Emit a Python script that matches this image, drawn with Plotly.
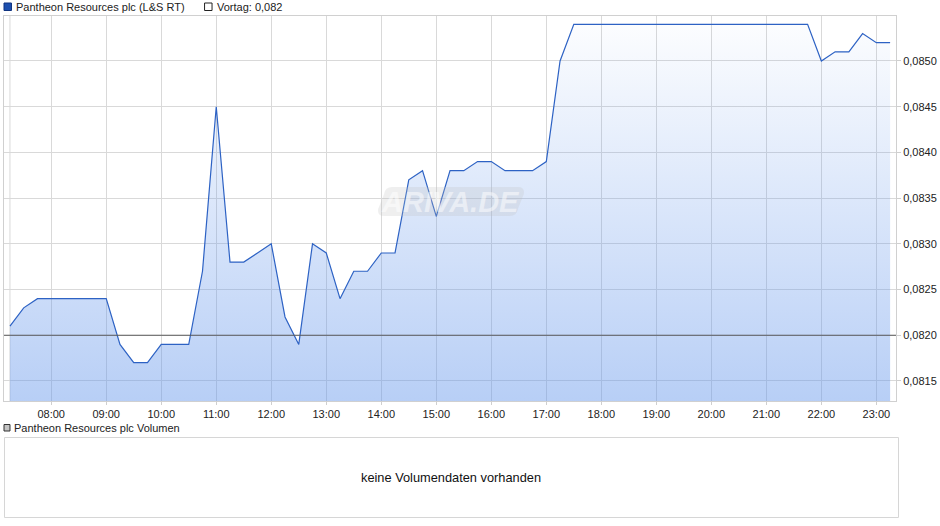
import plotly.graph_objects as go

# ---- data ----
times = ["07:15", "07:30", "07:45", "08:00", "08:15", "08:30", "08:45", "09:00",
         "09:15", "09:30", "09:45", "10:00", "10:15", "10:30", "10:45", "11:00",
         "11:15", "11:30", "11:45", "12:00", "12:15", "12:30", "12:45", "13:00",
         "13:15", "13:30", "13:45", "14:00", "14:15", "14:30", "14:45", "15:00",
         "15:15", "15:30", "15:45", "16:00", "16:15", "16:30", "16:45", "17:00",
         "17:15", "17:30", "17:45", "18:00", "18:15", "18:30", "18:45", "19:00",
         "19:15", "19:30", "19:45", "20:00", "20:15", "20:30", "20:45", "21:00",
         "21:15", "21:30", "21:45", "22:00", "22:15", "22:30", "22:45", "23:00",
         "23:15"]
prices = [0.0821, 0.0823, 0.0824, 0.0824, 0.0824, 0.0824, 0.0824, 0.0824,
          0.0819, 0.0817, 0.0817, 0.0819, 0.0819, 0.0819, 0.0827, 0.0845,
          0.0828, 0.0828, 0.0829, 0.0830, 0.0822, 0.0819, 0.0830, 0.0829,
          0.0824, 0.0827, 0.0827, 0.0829, 0.0829, 0.0837, 0.0838, 0.0833,
          0.0838, 0.0838, 0.0839, 0.0839, 0.0838, 0.0838, 0.0838, 0.0839,
          0.0850, 0.0854, 0.0854, 0.0854, 0.0854, 0.0854, 0.0854, 0.0854,
          0.0854, 0.0854, 0.0854, 0.0854, 0.0854, 0.0854, 0.0854, 0.0854,
          0.0854, 0.0854, 0.0854, 0.0850, 0.0851, 0.0851, 0.0853, 0.0852,
          0.0852]
prev_close = 0.082
series_name = "Pantheon Resources plc (L&S RT)"
prev_label = "Vortag: 0,082"
volume_name = "Pantheon Resources plc Volumen"
no_volume_text = "keine Volumendaten vorhanden"
watermark = "ARIVA.DE"
y_tickvals = [0.0815, 0.0820, 0.0825, 0.0830, 0.0835, 0.0840, 0.0845, 0.0850]
y_ticktext = ["0,0815", "0,0820", "0,0825", "0,0830", "0,0835", "0,0840",
              "0,0845", "0,0850"]

DAY = "2024-01-01 "
x = [DAY + t for t in times]

W, H = 940, 526
L, R, T, B = 3, 897, 16, 401  # plot area in pixels
Y_MIN, Y_MAX = 0.081281, 0.085492
FONT = "Liberation Sans, Arial, sans-serif"


def px(v):
    return (v - L) / (R - L)


def py(v):
    return (B - v) / (B - T)


fig = go.Figure()
fig.add_trace(go.Scatter(
    x=x, y=prices, mode="lines",
    line=dict(color="#2d62c4", width=1.2),
    fill="tozeroy",
    fillgradient=dict(
        type="vertical",
        start=Y_MIN, stop=0.0854,
        colorscale=[[0, "rgba(100,150,235,0.46)"], [1, "rgba(100,150,235,0.02)"]],
    ),
    hoverinfo="skip", showlegend=False,
))

shapes = []
# previous close line
shapes.append(dict(type="line", xref="paper", yref="y", x0=0, x1=1,
                   y0=prev_close, y1=prev_close,
                   line=dict(color="#5a5a5a", width=1), layer="above"))
# vertical grid at data start
shapes.append(dict(type="line", xref="x", yref="paper", x0=x[0], x1=x[0],
                   y0=0, y1=1, line=dict(color="#d9d9d9", width=1), layer="below"))

# watermark: rounded parallelogram
r = 7
tl, tr, br, bl = (385, 187), (525, 187), (517, 216), (377, 216)
path = (f"M {px(tl[0]+r)},{py(tl[1])} L {px(tr[0]-r)},{py(tr[1])} "
        f"Q {px(tr[0])},{py(tr[1])} {px(tr[0]-1)},{py(tr[1]+r)} "
        f"L {px(br[0]+1)},{py(br[1]-r)} "
        f"Q {px(br[0])},{py(br[1])} {px(br[0]-r)},{py(br[1])} "
        f"L {px(bl[0]+r)},{py(bl[1])} "
        f"Q {px(bl[0])},{py(bl[1])} {px(bl[0]+1)},{py(bl[1]-r)} "
        f"L {px(tl[0]-1)},{py(tl[1]+r)} "
        f"Q {px(tl[0])},{py(tl[1])} {px(tl[0]+r)},{py(tl[1])} Z")
shapes.append(dict(type="path", xref="paper", yref="paper", path=path,
                   fillcolor="rgba(190,190,190,0.25)", line=dict(width=0),
                   layer="above"))

# legend squares
shapes.append(dict(type="rect", xref="paper", yref="paper",
                   x0=px(3), x1=px(10.5), y0=py(3), y1=py(10.5),
                   fillcolor="#1d4fae", line=dict(color="#0f3380", width=1)))
shapes.append(dict(type="rect", xref="paper", yref="paper",
                   x0=px(204), x1=px(211.5), y0=py(3), y1=py(10.5),
                   fillcolor="white", line=dict(color="#222", width=1)))
shapes.append(dict(type="rect", xref="paper", yref="paper",
                   x0=px(3), x1=px(9), y0=py(424.5), y1=py(431),
                   fillcolor="#c4c4c4", line=dict(color="#333", width=1)))
# volume box
shapes.append(dict(type="rect", xref="paper", yref="paper",
                   x0=px(3.5), x1=px(899.5), y0=py(437.5), y1=py(517.5),
                   fillcolor="white", line=dict(color="#d6d6d6", width=1)))

annotations = [
    dict(text=series_name, xref="paper", yref="paper", x=px(13.5), y=py(7),
         xanchor="left", yanchor="middle", showarrow=False,
         font=dict(family=FONT, size=11, color="#222")),
    dict(text=prev_label, xref="paper", yref="paper", x=px(214.5), y=py(7),
         xanchor="left", yanchor="middle", showarrow=False,
         font=dict(family=FONT, size=11, color="#222")),
    dict(text=volume_name, xref="paper", yref="paper", x=px(11.5), y=py(428),
         xanchor="left", yanchor="middle", showarrow=False,
         font=dict(family=FONT, size=11, color="#222")),
    dict(text=no_volume_text, xref="paper", yref="paper", x=px(451.5), y=py(477.5),
         xanchor="center", yanchor="middle", showarrow=False,
         font=dict(family=FONT, size=12.8, color="#111")),
    dict(text=f"<b><i>{watermark}</i></b>", xref="paper", yref="paper",
         x=px(451), y=py(202), xanchor="center", yanchor="middle", showarrow=False,
         font=dict(family=FONT, size=29, color="rgba(255,255,255,0.5)")),
]

fig.update_layout(
    width=W, height=H,
    margin=dict(l=L, r=W - R, t=T, b=H - B, pad=0),
    paper_bgcolor="white", plot_bgcolor="white",
    separators=",.",
    showlegend=False,
    font=dict(family=FONT, size=11, color="#222"),
    shapes=shapes, annotations=annotations,
    xaxis=dict(
        type="date",
        range=[DAY + "07:08:30", DAY + "23:21:25"],
        tickformat="%H:%M", dtick=3600000, tick0=DAY + "08:00",
        showgrid=True, gridcolor="#d9d9d9", gridwidth=1,
        ticks="outside", ticklen=3, tickcolor="#cfcfcf",
        showline=True, linecolor="#d0d0d0", mirror=True,
        zeroline=False,
        tickfont=dict(family=FONT, size=11, color="#222"),
        fixedrange=True,
    ),
    yaxis=dict(
        side="right",
        range=[Y_MIN, Y_MAX],
        tickmode="array",
        tickvals=y_tickvals,
        ticktext=y_ticktext,
        showgrid=True, gridcolor="#d9d9d9", gridwidth=1,
        ticks="outside", ticklen=4, tickcolor="#cfcfcf",
        showline=True, linecolor="#d0d0d0", mirror=True,
        zeroline=False,
        tickfont=dict(family=FONT, size=11, color="#222"),
        fixedrange=True,
    ),
)

fig.write_html(
    "out.html",
    config={"displayModeBar": False},
    post_script="document.body.style.margin='0';document.body.style.padding='0';",
)
